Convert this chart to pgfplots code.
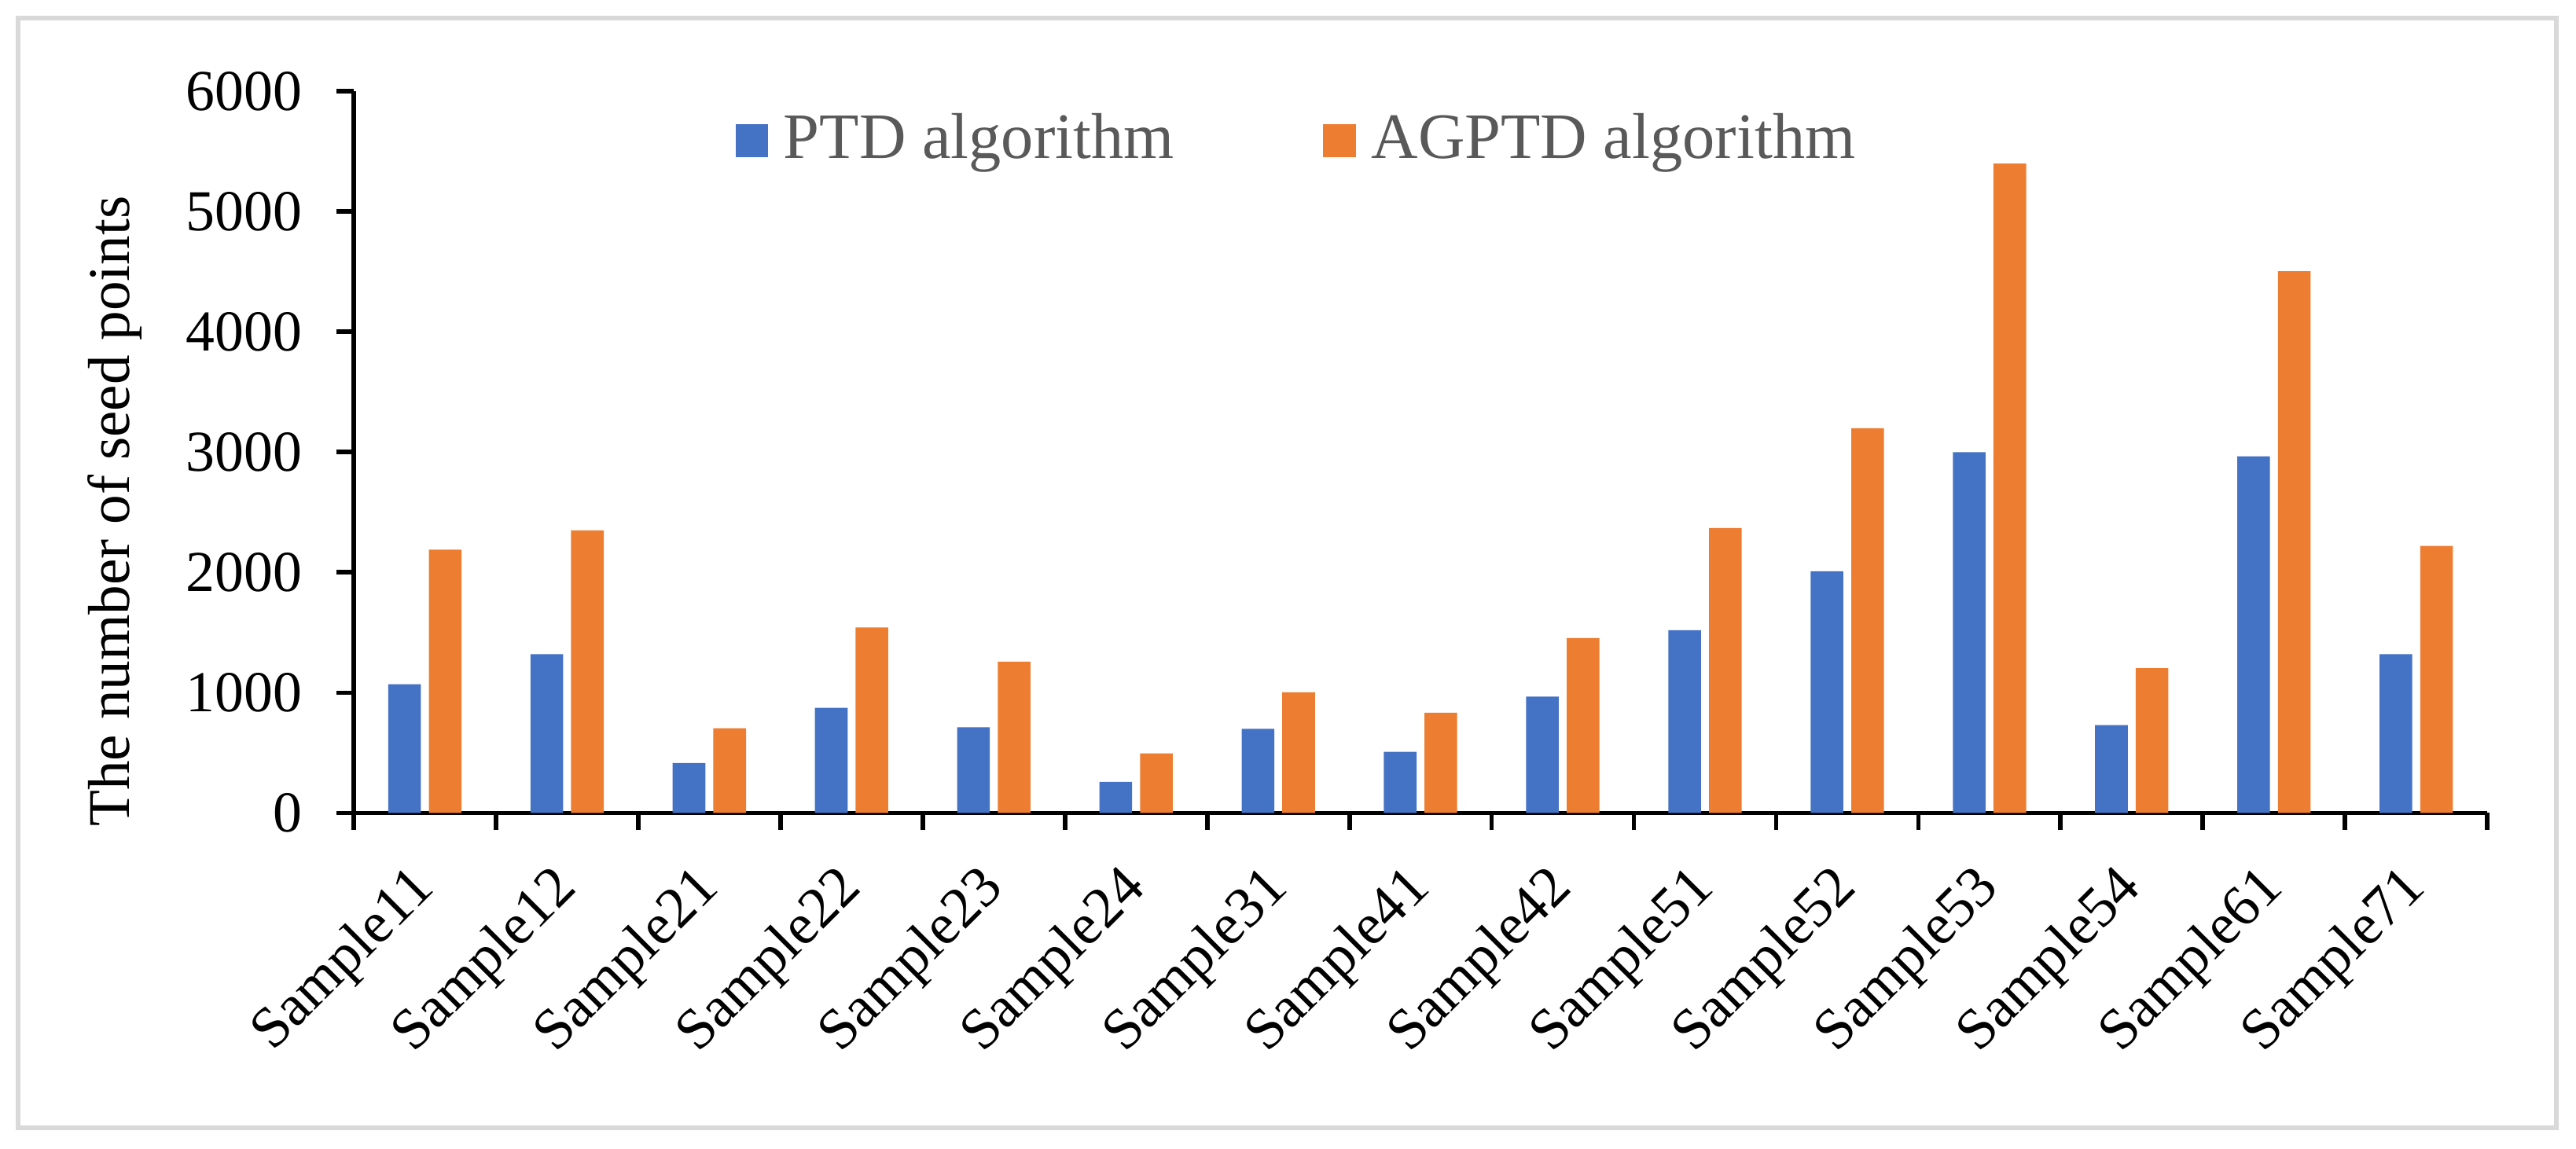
\documentclass[border=0pt]{standalone}
\usepackage{pgfplots}
\pgfplotsset{compat=1.18}
\usepackage{fontspec}
\setmainfont{Liberation Serif}
\definecolor{ptdblue}{HTML}{4472C4}
\definecolor{agorange}{HTML}{ED7D31}
\definecolor{legtext}{HTML}{595959}
\definecolor{framegray}{HTML}{D9D9D9}

\begin{document}
\begin{tikzpicture}
\useasboundingbox (-62.24pt,-59.13pt) rectangle (391.0pt,143.08pt);
\draw[framegray, line width=0.9pt] (-59.06pt,-55.4pt) rectangle (387.55pt,139.9pt);
\begin{axis}[
    at={(0pt,0pt)}, anchor=south west,
    scale only axis,
    width=375.4pt, height=127pt,
    ybar=1.4pt, bar width=5.75pt,
    xmin=-0.5, xmax=14.5,
    ymin=0, ymax=6000,
    axis x line=bottom, axis y line=left,
    axis line style={-, line width=0.8pt},
    tick align=outside,
    % ticks drawn as minor ticks, so labels are not moved by tick length
    major tick length=0pt, minor tick length=3pt,
    major tick style={draw=none},
    minor tick style={black, line width=0.8pt},
    xtick={0,...,14},
    minor xtick={-0.5,0.5,...,14.5},
    xticklabels={Sample11,Sample12,Sample21,Sample22,Sample23,Sample24,Sample31,Sample41,Sample42,Sample51,Sample52,Sample53,Sample54,Sample61,Sample71},
    xticklabel style={xshift=2.7pt, yshift=-9.3pt, rotate=45, anchor=east,
        font=\fontsize{10.2pt}{12pt}\selectfont},
    ytick={0,1000,...,6000},
    minor ytick={0,1000,...,6000},
    scaled y ticks=false,
    /pgf/number format/assume math mode=true,
    /pgf/number format/1000 sep={},
    yticklabel style={xshift=-5.6pt, font=\fontsize{10.2pt}{12pt}\selectfont},
    ylabel={The number of seed points},
    ylabel style={at={(axis description cs:-0.1121,0.418)}, anchor=center,
        font=\fontsize{10.4pt}{12pt}\selectfont},
    legend columns=2,
    legend image code/.code={\fill[#1] (0pt,-2.9pt) rectangle (5.8pt,2.9pt);},
    legend style={at={(0.443,0.932)}, anchor=center, draw=none, fill=none,
        font=\fontsize{11.4pt}{13pt}\selectfont, text=legtext,
        nodes={inner xsep=1.2pt},
        /tikz/every odd column/.append style={column sep=1.5pt},
        /tikz/every even column/.append style={column sep=25pt}},
]
\addplot[fill=ptdblue, draw=none] coordinates {
(0,1070) (1,1320) (2,415) (3,875) (4,712) (5,258) (6,700) (7,508)
(8,967) (9,1520) (10,2010) (11,3000) (12,730) (13,2965) (14,1320)
};
\addlegendentry{PTD algorithm}
\addplot[fill=agorange, draw=none] coordinates {
(0,2190) (1,2350) (2,705) (3,1542) (4,1258) (5,496) (6,1004) (7,833)
(8,1454) (9,2370) (10,3200) (11,5400) (12,1205) (13,4505) (14,2220)
};
\addlegendentry{AGPTD algorithm}
\end{axis}
\end{tikzpicture}
\end{document}
